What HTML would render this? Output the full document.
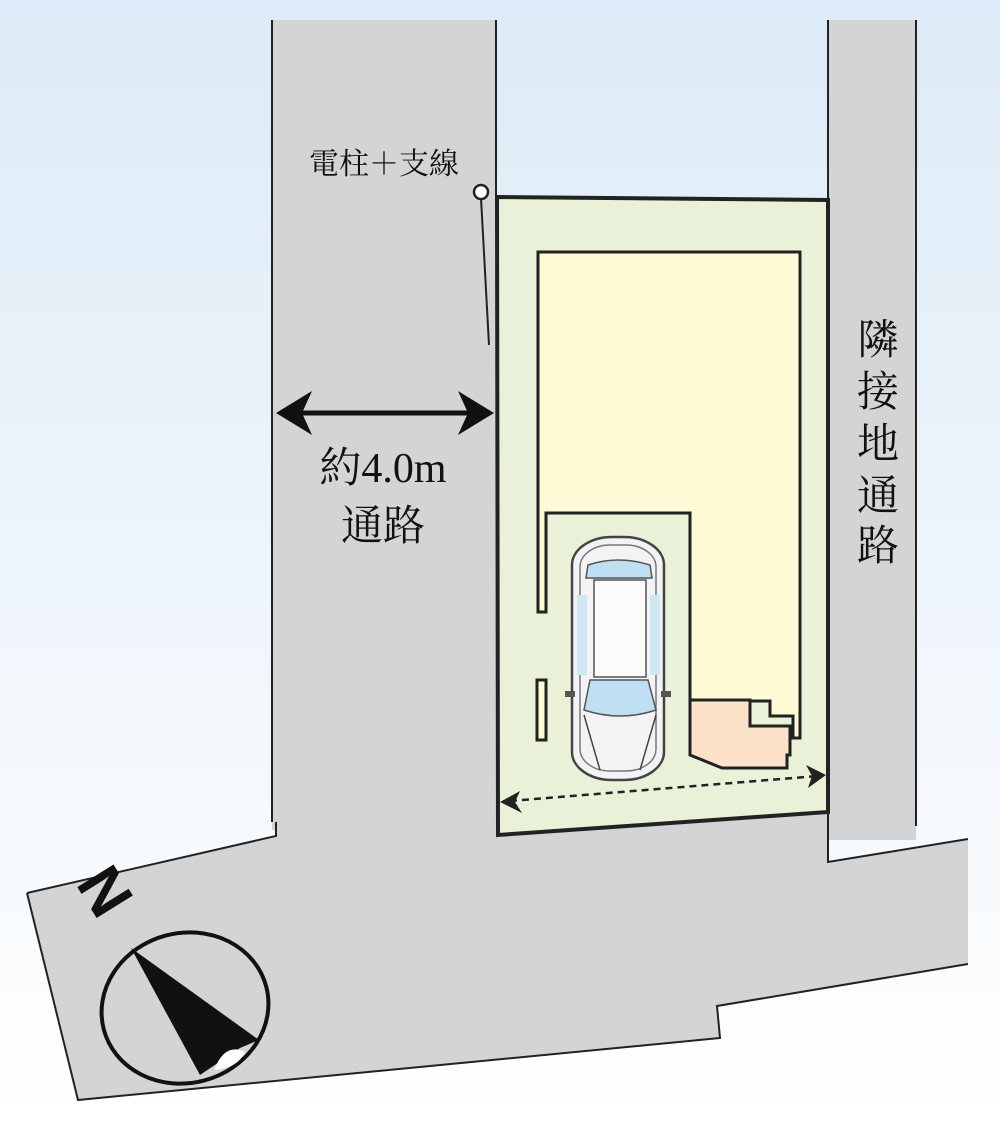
<!DOCTYPE html>
<html><head><meta charset="utf-8"><style>
html,body{margin:0;padding:0}
body{width:1000px;height:1126px;background:linear-gradient(#dcebf7 0%,#eef5fb 50%,#ffffff 100%);overflow:hidden}
svg{display:block}
text{font-family:"Liberation Serif","Noto Serif CJK SC","Noto Sans CJK JP",serif;fill:#111}
</style></head><body>
<svg width="1000" height="1126" viewBox="0 0 1000 1126">
<!-- roads -->
<polygon points="272,20 496,20 496,830 272,830" fill="#d3d4d6"/>
<polygon points="828,20 916,20 916,840 828,840" fill="#d3d4d6"/>
<polygon points="27,893 276,836 276,815 828,800 828,862 968,839 968,964 717,1006 720,1038 78,1100" fill="#d3d4d6"/>
<polyline points="272,20 272,822" stroke="#222" stroke-width="2" fill="none"/>
<polyline points="496,20 496,197" stroke="#222" stroke-width="2" fill="none"/>
<polyline points="828,20 828,200" stroke="#222" stroke-width="2" fill="none"/>
<polyline points="916,20 916,826" stroke="#222" stroke-width="2" fill="none"/>
<polyline points="27,893 276,836 276,822" stroke="#222" stroke-width="2" fill="none"/>
<polyline points="27,893 78,1100 720,1038 717,1006 968,964" stroke="#222" stroke-width="2" fill="none"/>
<polyline points="828,812 828,862 968,839" stroke="#222" stroke-width="2" fill="none"/>
<!-- lot -->
<polygon points="497,197 828,200 828,812 498,835" fill="#e9f2d9" stroke="#222" stroke-width="4"/>
<!-- building -->
<polygon points="538,252 800,252 800,738 793,738 793,716 770,716 770,701 750,701 750,700 690,700 690,513 546,513 546,612 538,612" fill="#fdfbd5" stroke="#222" stroke-width="3"/>
<rect x="537" y="680" width="9" height="60" fill="#fdfbd5" stroke="#222" stroke-width="3"/>
<polygon points="690,700 750,700 750,726 790,726 790,755 787,755 787,768 722,768 690,755" fill="#fbe2c8" stroke="#222" stroke-width="3"/>
<!-- car -->
<g>
<rect x="572" y="537" width="92" height="243" rx="40" ry="28" fill="#f3f3f5" stroke="#444" stroke-width="2.5"/>
<rect x="580" y="545" width="76" height="226" rx="30" ry="22" fill="none" stroke="#777" stroke-width="1.5"/>
<path d="M588,565 Q618,555 650,565 L652,578 L586,578 Z" fill="#bfe0f2" stroke="#555" stroke-width="1.5"/>
<rect x="594" y="580" width="52" height="97" fill="#fbfbfb" stroke="#555" stroke-width="1.5"/>
<path d="M590,680 L648,680 L656,710 Q620,722 584,710 Z" fill="#bfe0f2" stroke="#555" stroke-width="1.5"/>
<rect x="577" y="595" width="10" height="80" fill="#cfe6f3"/>
<rect x="650" y="595" width="10" height="80" fill="#cfe6f3"/>
<path d="M584,715 L600,770 M656,715 L640,770" stroke="#444" stroke-width="1.5"/>
<rect x="565" y="691" width="10" height="6" fill="#555"/><rect x="661" y="691" width="10" height="6" fill="#555"/>
</g>
<!-- dashed dimension -->
<line x1="510" y1="801" x2="818" y2="776" stroke="#222" stroke-width="2.5" stroke-dasharray="7,5"/>
<polygon points="500,802 520,791 515,802 522,813" fill="#222"/>
<polygon points="826,775 806,765 812,776 808,788" fill="#222"/>
<!-- 4.0m arrow -->
<line x1="292" y1="413" x2="478" y2="413" stroke="#111" stroke-width="5"/>
<polygon points="276,413 312,391 302,413 312,435" fill="#111"/>
<polygon points="494,413 458,391 468,413 458,435" fill="#111"/>
<text x="383" y="482" font-size="42" text-anchor="middle">約4.0m</text>
<text x="383" y="540" font-size="42" text-anchor="middle">通路</text>
<!-- pole -->
<text x="384" y="174" font-size="30" text-anchor="middle">電柱＋支線</text>
<line x1="481" y1="198" x2="489" y2="345" stroke="#222" stroke-width="2"/>
<circle cx="481" cy="192" r="7" fill="#fff" stroke="#222" stroke-width="2.5"/>
<!-- neighbor road -->
<text font-size="42" text-anchor="middle"><tspan x="878" y="354">隣</tspan><tspan x="878" y="406">接</tspan><tspan x="878" y="458">地</tspan><tspan x="878" y="510">通</tspan><tspan x="878" y="560">路</tspan></text>
<!-- compass -->
<ellipse cx="185" cy="1008" rx="84" ry="75" transform="rotate(-15 185 1008)" fill="none" stroke="#111" stroke-width="4"/>
<polygon points="131,948 259,1040 240,1048 200,1075" fill="#111"/>
<path d="M214,1070 Q225,1042 245,1052 Q238,1068 214,1070Z" fill="#fff"/>
<text x="104" y="912" font-size="62" font-weight="bold" transform="rotate(58 104 892)" text-anchor="middle" style="font-family:'Liberation Sans',sans-serif">N</text>
</svg>
</body></html>
